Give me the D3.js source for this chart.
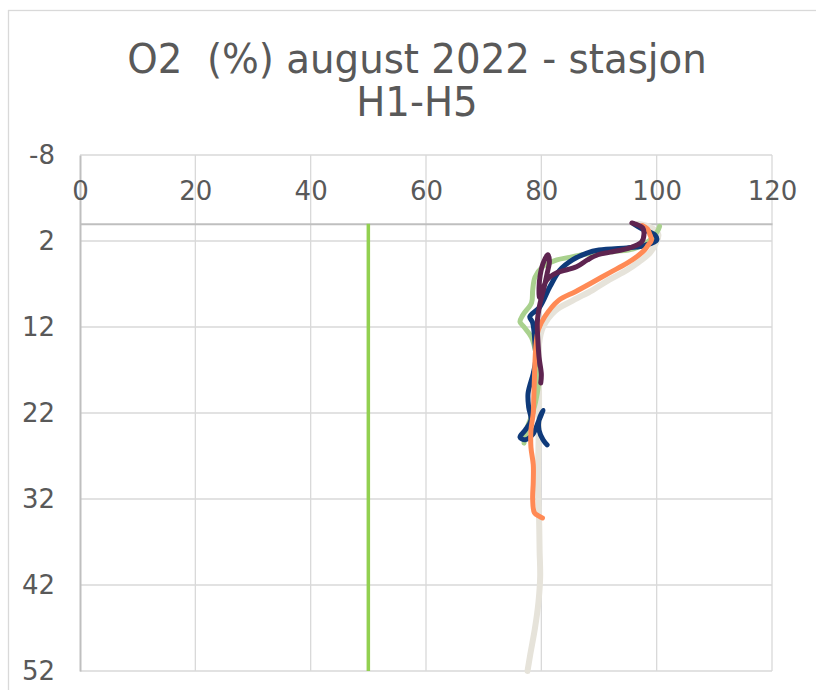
<!DOCTYPE html>
<html>
<head>
<meta charset="utf-8">
<script src="https://cdn.jsdelivr.net/npm/d3@7"></script>
<style>
  html, body { margin: 0; padding: 0; background: #ffffff; }
  svg { display: block; }
  text { font-family: "DejaVu Sans", Verdana, sans-serif; fill: #595959; }
</style>
</head>
<body>
<svg id="chart" width="816" height="690"></svg>
<script>
// O2 saturation (%) against depth (m), stations H1-H5, August 2022
const titleLines = ["O2  (%) august 2022 - stasjon", "H1-H5"];
const xTicks = [0, 20, 40, 60, 80, 100, 120];
const yTicks = [-8, 2, 12, 22, 32, 42, 52];
const limitValue = 50;            // reference line at 50 % saturation
const limitDepth = [0, 52];

const h1Depth = [0.0, 0.6, 1.3, 1.9, 2.5, 2.7, 2.8, 3.05, 3.4, 4.2, 5.4, 7.3, 9.7, 10.8, 11.5, 13.9, 16.0, 17.4, 19.7, 21.3, 22.8, 24.0, 24.8, 25.1, 24.5, 23.0, 21.7, 22.8, 24.0, 25.1, 25.7];
const h1O2    = [96.0, 97.5, 99.7, 100.0, 98.0, 96.5, 94.8, 90.0, 87.9, 85.4, 83.2, 81.5, 79.7, 78.0, 78.5, 78.9, 79.0, 78.6, 77.7, 77.8, 78.2, 77.2, 76.3, 77.2, 78.5, 79.5, 80.3, 79.6, 79.6, 80.3, 81.0];

const h2Depth = [0.3, 0.8, 1.5, 2.3, 2.9, 3.2, 3.4, 3.5, 3.9, 4.2, 5.0, 6.2, 7.7, 9.2, 10.6, 11.4, 12.0, 13.2, 15.5, 17.4, 19.7, 22.0, 23.6, 25.5];
const h2O2    = [100.5, 100.2, 99.5, 98.0, 96.0, 93.0, 90.0, 87.9, 84.9, 82.7, 80.2, 78.9, 78.5, 78.3, 76.8, 76.3, 77.0, 78.3, 79.2, 79.6, 79.3, 78.5, 77.6, 77.0];

const h3Depth = [-0.1, 0.5, 1.2, 2.1, 2.8, 3.3, 3.6, 4.2, 5.0, 5.7, 6.5, 7.5, 8.6, 7.5, 6.0, 4.6, 3.6, 4.3, 5.8, 7.6, 9.5, 11.5, 13.5, 15.5, 17.5, 18.5];
const h3O2    = [95.7, 97.6, 97.8, 97.4, 95.3, 91.9, 89.8, 88.0, 86.1, 82.7, 81.0, 80.3, 79.7, 79.6, 79.8, 80.3, 81.1, 81.4, 81.0, 80.4, 79.7, 79.3, 79.4, 79.6, 80.0, 79.9];

const h4Depth = [0.2, 0.6, 1.2, 1.9, 2.5, 3.05, 3.8, 4.6, 5.7, 6.8, 7.9, 8.9, 10.8, 12.3, 13.9, 16.0, 18.0, 20.0, 22.0, 24.0, 26.0, 28.0, 30.0, 32.0, 33.6, 34.0, 34.2];
const h4O2    = [97.5, 98.4, 98.8, 99.1, 98.5, 97.9, 96.6, 94.8, 91.8, 88.9, 85.9, 83.0, 80.6, 79.5, 79.1, 78.9, 78.8, 78.7, 78.6, 78.2, 78.2, 78.6, 78.6, 78.5, 78.8, 79.6, 80.2];

const h5Depth = [0.0, 0.3, 0.8, 1.3, 2.2, 3.4, 4.4, 5.4, 6.5, 7.7, 8.9, 10.1, 12.0, 14.0, 18.0, 22.0, 26.0, 30.0, 34.0, 38.0, 41.0, 44.0, 47.0, 50.0, 52.0];
const h5O2    = [96.8, 98.5, 99.8, 100.3, 99.9, 98.8, 97.0, 94.8, 91.8, 88.9, 85.5, 82.4, 80.3, 79.6, 79.6, 79.6, 79.5, 79.4, 79.6, 79.7, 79.8, 79.5, 78.9, 78.1, 77.6];

const stations = [
  { name: "H5", depth: h5Depth, o2: h5O2, color: "#e6e3da", width: 6 },
  { name: "H2", depth: h2Depth, o2: h2O2, color: "#a9d18e", width: 5 },
  { name: "H1", depth: h1Depth, o2: h1O2, color: "#0f3a7a", width: 5 },
  { name: "H4", depth: h4Depth, o2: h4O2, color: "#ff8a55", width: 5 },
  { name: "H3", depth: h3Depth, o2: h3O2, color: "#5e2450", width: 5 }
];

const svg = d3.select("#chart");

// outer chart frame
svg.append("rect")
  .attr("x", 8.5).attr("y", 10.5)
  .attr("width", 830).attr("height", 700)
  .attr("fill", "#ffffff").attr("stroke", "#d9d9d9").attr("stroke-width", 1.3);

const plot = { left: 80, right: 772, top: 155, bottom: 671 };

const x = d3.scaleLinear().domain([0, 120]).range([plot.left, plot.right]);
const y = d3.scaleLinear().domain([-8, 52]).range([plot.top, plot.bottom]);

// title, slightly condensed, keeping the double space
const title = svg.append("text")
  .attr("text-anchor", "middle")
  .attr("font-size", 41)
  .attr("transform", "translate(417,0) scale(0.945,1)")
  .style("white-space", "pre");
titleLines.forEach((t, i) => {
  title.append("tspan").attr("x", 0).attr("y", 73 + i * 43).text(t);
});

// gridlines
const grid = svg.append("g").attr("stroke", "#d9d9d9").attr("stroke-width", 1.3);
grid.selectAll("line.h").data(yTicks).join("line")
  .attr("x1", plot.left).attr("x2", plot.right)
  .attr("y1", d => y(d)).attr("y2", d => y(d));
grid.selectAll("line.v").data(xTicks.filter(d => d > 0)).join("line")
  .attr("x1", d => x(d)).attr("x2", d => x(d))
  .attr("y1", plot.top).attr("y2", plot.bottom);

const fmt = d => String(d);

// y axis (depth), labels on the left
const yAxis = svg.append("g")
  .attr("transform", `translate(${plot.left},0)`)
  .call(d3.axisLeft(y).tickValues(yTicks).tickSize(0).tickPadding(25).tickFormat(fmt));
yAxis.select(".domain").attr("stroke", "#bfbfbf").attr("stroke-width", 2);
yAxis.selectAll("text").attr("font-size", 26).attr("fill", "#595959")
  .style("font-family", "'DejaVu Sans', Verdana, sans-serif");

// x axis crosses at depth 0, labels above the line
const xAxis = svg.append("g")
  .attr("transform", `translate(0,${y(0)})`)
  .call(d3.axisTop(x).tickValues(xTicks).tickSize(0).tickPadding(24).tickFormat(fmt));
xAxis.select(".domain").attr("stroke", "#bfbfbf").attr("stroke-width", 2);
xAxis.selectAll("text").attr("font-size", 26).attr("fill", "#595959")
  .style("font-family", "'DejaVu Sans', Verdana, sans-serif");

// 50 % reference line
svg.append("line")
  .attr("x1", x(limitValue)).attr("x2", x(limitValue))
  .attr("y1", y(limitDepth[0])).attr("y2", y(limitDepth[1]))
  .attr("stroke", "#92d050").attr("stroke-width", 3.5);

// station profiles
const line = d3.line()
  .x(d => x(d[1]))
  .y(d => y(d[0]))
  .curve(d3.curveCatmullRom.alpha(0.5));

svg.append("g").selectAll("path").data(stations).join("path")
  .attr("d", s => line(s.depth.map((d, i) => [d, s.o2[i]])))
  .attr("fill", "none")
  .attr("stroke", s => s.color)
  .attr("stroke-width", s => s.width)
  .attr("stroke-linejoin", "round")
  .attr("stroke-linecap", "round");
</script>
</body>
</html>
